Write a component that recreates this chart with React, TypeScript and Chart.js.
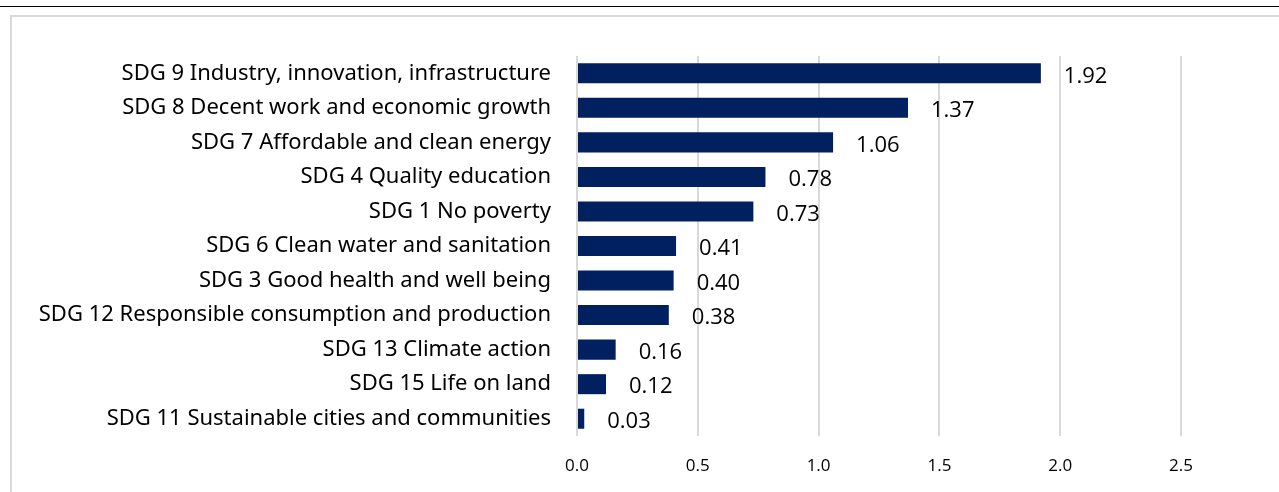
import React, { useEffect, useRef } from "react";
import { Chart, registerables } from "chart.js";

Chart.register(...registerables);

const categories = [
  "SDG 9 Industry, innovation, infrastructure",
  "SDG 8 Decent work and economic growth",
  "SDG 7 Affordable and clean energy",
  "SDG 4 Quality education",
  "SDG 1 No poverty",
  "SDG 6 Clean water and sanitation",
  "SDG 3 Good health and well being",
  "SDG 12 Responsible consumption and production",
  "SDG 13 Climate action",
  "SDG 15 Life on land",
  "SDG 11 Sustainable cities and communities",
];
const values = [1.92, 1.37, 1.06, 0.78, 0.73, 0.41, 0.4, 0.38, 0.16, 0.12, 0.03];
const xMin = 0;
const xMax = 2.5;
const xStep = 0.5;

const valueLabels = {
  id: "valueLabels",
  afterDatasetsDraw(chart: any) {
    const ctx = chart.ctx;
    const meta = chart.getDatasetMeta(0);
    ctx.save();
    ctx.font = "22px 'Open Sans'";
    ctx.fillStyle = "#000";
    ctx.textAlign = "left";
    ctx.textBaseline = "middle";
    meta.data.forEach((bar: any, i: number) => {
      const v = chart.data.datasets[0].data[i] as number;
      ctx.fillText(v.toFixed(2), bar.x + 23, bar.y + 3);
    });
    ctx.restore();
  },
};

export default function App() {
  const ref = useRef<HTMLCanvasElement | null>(null);
  useEffect(() => {
    document.body.style.margin = "0";
    const chart = new Chart(ref.current!, {
      type: "bar",
      data: {
        labels: categories,
        datasets: [
          {
            data: values,
            backgroundColor: "#002060",
            categoryPercentage: 1,
            barPercentage: 0.58,
          },
        ],
      },
      options: {
        indexAxis: "y",
        animation: false,
        responsive: false,
        layout: { padding: { left: 0, right: 98, top: 56, bottom: 0 } },
        plugins: { legend: { display: false }, tooltip: { enabled: false } },
        scales: {
          x: {
            min: xMin,
            max: xMax,
            grid: { color: "#d9d9d9", lineWidth: 2, drawTicks: false },
            border: { display: false },
            ticks: {
              stepSize: xStep,
              padding: 20,
              color: "#000",
              font: { family: "'Open Sans'", size: 17 },
              callback: (v: any) => Number(v).toFixed(1),
            },
            afterFit: (s: any) => {
              s.height = 56;
            },
          },
          y: {
            grid: { display: false, drawTicks: false },
            border: { display: false },
            ticks: {
              padding: 26,
              color: "#000",
              font: { family: "'Noto Sans'", size: 22 },
            },
            afterFit: (s: any) => {
              s.width = 577;
            },
          },
        },
      },
      plugins: [valueLabels],
    });
    return () => chart.destroy();
  }, []);
  return (
    <div style={{ position: "absolute", left: 0, top: 0, width: 1279, height: 492, overflow: "hidden", background: "#fff" }}>
      <div style={{ position: "absolute", left: 0, top: 6, width: 1279, height: 1, background: "#000" }} />
      <div style={{ position: "absolute", left: 10, top: 15, width: 1400, height: 600, border: "2px solid #d9d9d9" }} />
      <canvas ref={ref} width={1279} height={492} style={{ position: "absolute", left: 0, top: 0 }} />
    </div>
  );
}
